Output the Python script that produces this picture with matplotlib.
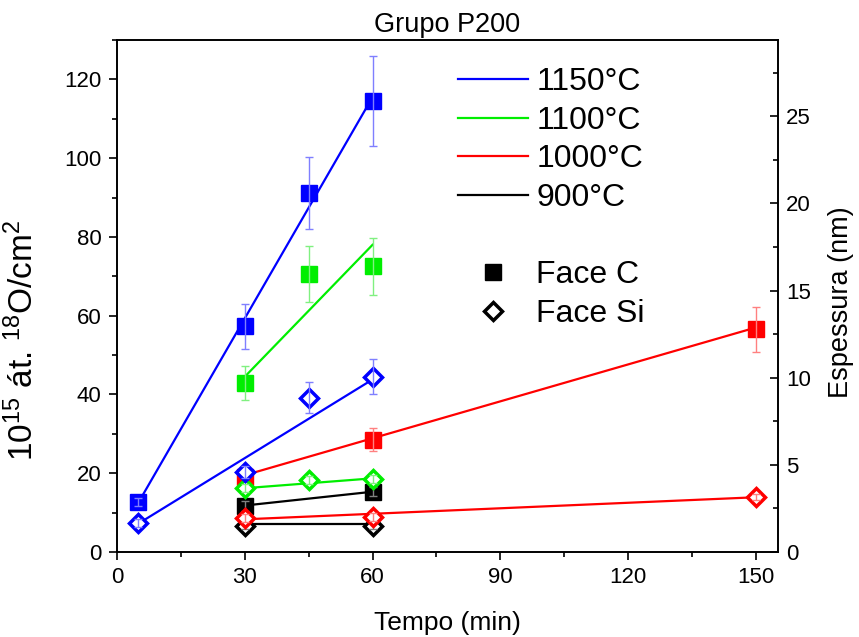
import matplotlib
matplotlib.use("Agg")
import matplotlib.pyplot as plt
from matplotlib.lines import Line2D
from matplotlib.ticker import MultipleLocator

plt.rcParams['font.family'] = ['Liberation Sans', 'DejaVu Sans']
plt.rcParams['mathtext.fontset'] = 'custom'
plt.rcParams['mathtext.rm'] = 'Liberation Sans'

# data (x = time in min, y = 10^15 at. 18O/cm2)
t_1150 = [5, 30, 45, 60]
c_1150 = [12.7, 57.3, 91.2, 114.5]
c_1150_err = [1.0, 5.7, 9.2, 11.5]
si_1150 = [7.4, 20.4, 39.2, 44.5]
si_1150_err = [1.0, 1.5, 4.0, 4.5]

t_1100 = [30, 45, 60]
c_1100 = [43.0, 70.6, 72.5]
c_1100_err = [4.3, 7.1, 7.2]
si_1100 = [16.3, 18.3, 18.5]
si_1100_err = [1.0, 1.0, 1.0]

t_1000 = [30, 60, 150]
c_1000 = [19.0, 28.5, 56.6]
c_1000_err = [1.5, 2.9, 5.7]
si_1000 = [8.7, 8.9, 14.0]
si_1000_err = [1.0, 1.0, 0.8]

t_900 = [30, 60]
c_900 = [11.7, 15.3]
c_900_err = [1.2, 1.2]
si_900 = [6.6, 6.6]
si_900_err = [0.8, 0.8]

# fitted straight lines (end points)
fit_c_x = {"1150": [5, 60], "1100": [30, 60], "1000": [30, 150], "900": [30, 60]}
fit_c_y = {"1150": [12.5, 115.5], "1100": [44.5, 78.0], "1000": [19.5, 57.0], "900": [11.8, 15.3]}
fit_si_x = {"1150": [5, 60], "1100": [30, 60], "1000": [30, 150], "900": [30, 60]}
fit_si_y = {"1150": [7.2, 43.8], "1100": [16.2, 18.7], "1000": [8.3, 13.9], "900": [7.0, 7.0]}

temps = ["900", "1000", "1100", "1150"]
colors = {"1150": "#0000ff", "1100": "#00ee00", "1000": "#ff0000", "900": "#000000"}
err_colors = {"1150": "#7f7fff", "1100": "#80f080", "1000": "#ff8080", "900": "#808080"}
series = {
    "1150": (t_1150, c_1150, c_1150_err, si_1150, si_1150_err),
    "1100": (t_1100, c_1100, c_1100_err, si_1100, si_1100_err),
    "1000": (t_1000, c_1000, c_1000_err, si_1000, si_1000_err),
    "900": (t_900, c_900, c_900_err, si_900, si_900_err),
}

fig = plt.figure(figsize=(8.59, 6.37), dpi=100)
ax = fig.add_axes([117 / 859, 85 / 637, 661 / 859, 512 / 637])

z = 2
for name in temps:
    t, c, ce, si, sie = series[name]
    col = colors[name]
    ax.plot(fit_c_x[name], fit_c_y[name], color=col, lw=1.6, zorder=z)
    ax.plot(fit_si_x[name], fit_si_y[name], color=col, lw=1.6, zorder=z)
    ax.plot(t, c, ls='none', marker='s', ms=11, mfc=col, mec=col, mew=1, zorder=z + 1)
    ax.plot(t, si, ls='none', marker='D', ms=9, mfc='white', mec=col, mew=2.5, zorder=z + 1)
    ax.errorbar(t, c, yerr=ce, fmt='none', ecolor=err_colors[name], elinewidth=1,
                capsize=3, capthick=1, zorder=z + 2)
    ax.errorbar(t, si, yerr=sie, fmt='none', ecolor=err_colors[name], elinewidth=1,
                capsize=3, capthick=1, zorder=z + 2)
    z += 3

ax.set_xlim(0, 155.2)
ax.set_ylim(0, 130)
ax.xaxis.set_major_locator(MultipleLocator(30))
ax.xaxis.set_minor_locator(MultipleLocator(15))
ax.yaxis.set_major_locator(MultipleLocator(20))
ax.yaxis.set_minor_locator(MultipleLocator(10))
ax.tick_params(which='both', direction='out', width=1.2, labelsize=16, pad=5,
               top=False, right=False)
ax.tick_params(which='major', length=6)
ax.tick_params(which='minor', length=3.5)
for sp in ax.spines.values():
    sp.set_linewidth(1.2)

ax.set_xlabel("Tempo (min)", fontsize=19)
ax.xaxis.set_label_coords(0.5, -0.115)
ax.set_ylabel(r"$\mathregular{10^{15}}$ át. $\mathregular{^{18}}$O/cm$\mathregular{^2}$", fontsize=24)
ax.yaxis.set_label_coords(-0.116, 0.414)
ax.set_title("Grupo P200", fontsize=19.5, pad=6)

ax2 = ax.twinx()
ax2.set_ylim(0, 29.37)
ax2.yaxis.set_major_locator(MultipleLocator(5))
ax2.yaxis.set_minor_locator(MultipleLocator(2.5))
ax2.tick_params(which='both', direction='in', width=1.2, labelsize=16, pad=6)
ax2.tick_params(which='major', length=6)
ax2.tick_params(which='minor', length=3.5)
ax2.set_ylabel("Espessura (nm)", fontsize=19.5)
ax2.yaxis.set_label_coords(1.0756, 0.488)
for sp in ax2.spines.values():
    sp.set_linewidth(1.2)

handles = [Line2D([], [], color=colors[n], lw=1.6) for n in ["1150", "1100", "1000", "900"]]
labels = ["1150°C", "1100°C", "1000°C", "900°C"]
handles.append(Line2D([], [], color='none'))
labels.append(" ")
handles.append(Line2D([], [], ls='none', marker='s', ms=11, mfc='black', mec='black'))
labels.append("Face C")
handles.append(Line2D([], [], ls='none', marker='D', ms=9, mfc='white', mec='black', mew=2.5))
labels.append("Face Si")
leg = ax2.legend(handles, labels, loc='upper left', bbox_to_anchor=(0.516, 0.947),
                 frameon=False, fontsize=23, handlelength=2.2, handletextpad=0.25,
                 labelspacing=0.27, borderpad=0, borderaxespad=0)

fig.savefig("out.png", dpi=100)
